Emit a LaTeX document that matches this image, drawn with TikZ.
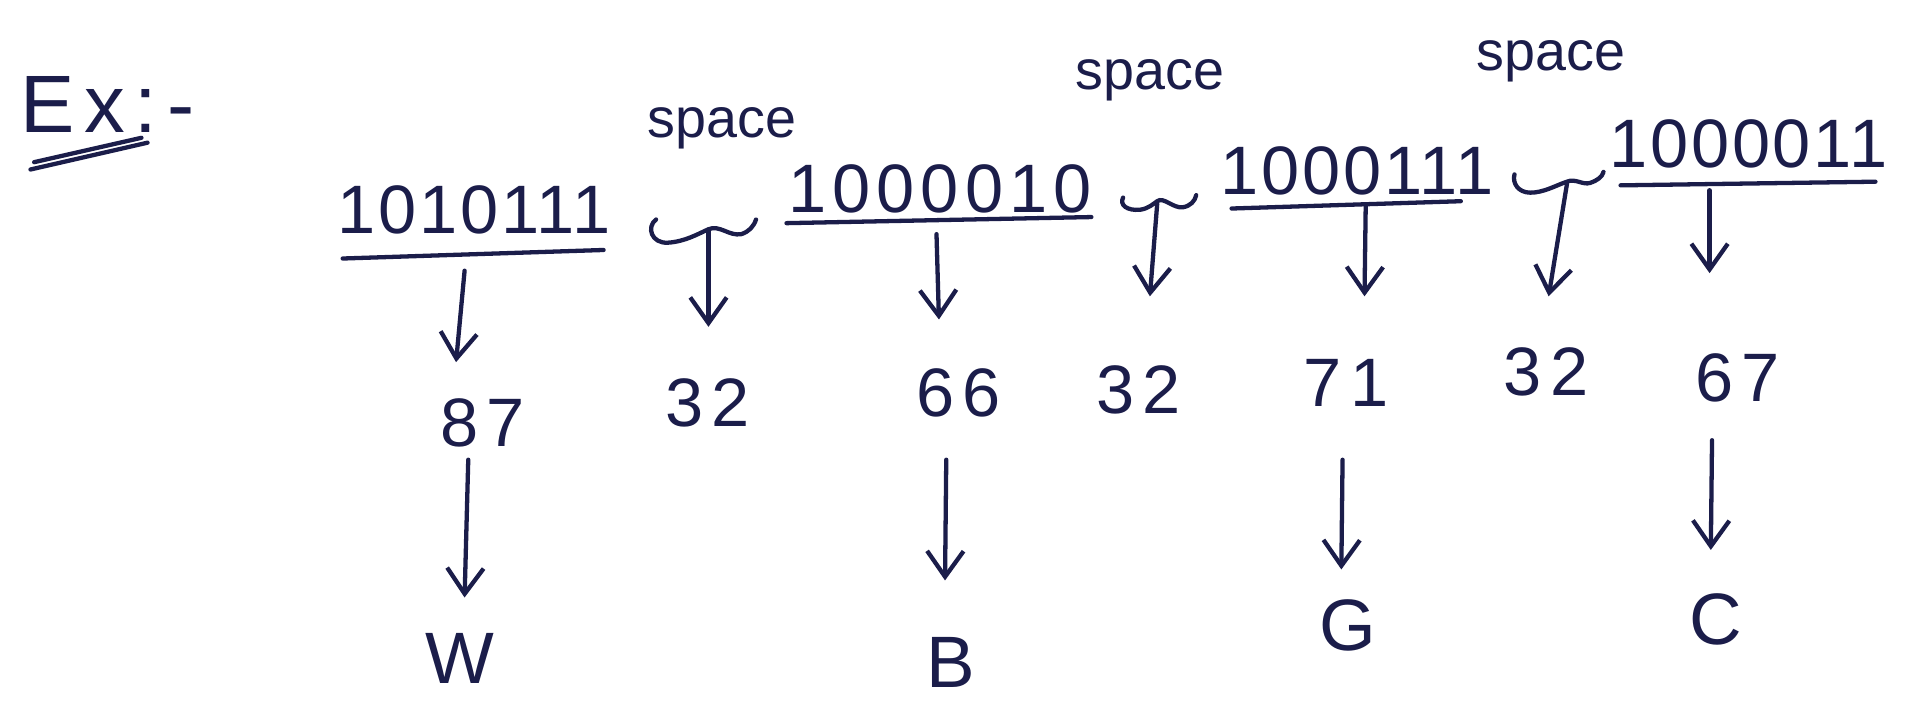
\documentclass[tikz,border=0pt]{standalone}
\usepackage{fontspec}
\setmainfont{Liberation Sans}
\newfontfamily\bitfont[LetterSpace=4]{Liberation Sans}
\newfontfamily\widebitfont[LetterSpace=9]{Liberation Sans}
\newfontfamily\numfont[LetterSpace=12]{Liberation Sans}
\usetikzlibrary{arrows.meta}
\definecolor{ink}{HTML}{1B1D4A}
\begin{document}
\begin{tikzpicture}[x=0.02cm,y=-0.02cm,
  pen/.style={draw=ink,line width=2pt,line cap=round,line join=round},
  bits/.style={text=ink,font=\bitfont\fontsize{32}{38}\selectfont,inner sep=0pt},
  num/.style={text=ink,font=\numfont\fontsize{32}{38}\selectfont,inner sep=0pt},
  chr/.style={text=ink,font=\fontsize{34}{40}\selectfont,inner sep=0pt},
  lbl/.style={text=ink,font=\fontsize{26}{30}\selectfont,inner sep=0pt},
  down/.style={pen,-{Straight Barb[length=12pt,width=17pt]}},
]
\fill[white] (0,0) rectangle (1568,589);
\useasboundingbox (0,0) rectangle (1568,589);

% heading, double underlined
\node[chr,font=\numfont\fontsize{38}{44}\selectfont] (ex) at (88,86) {Ex:-};
\draw[pen] (25,139) -- (121,117);
\draw[pen] (28,133) -- (116,113);

% the four 7-bit codes, each underlined
\node[bits] (g1) at (389,172) {1010111};
\node[bits,font=\widebitfont\fontsize{32}{38}\selectfont] (g2) at (771,155) {1000010};
\node[bits] (g3) at (1113,140) {1000111};
\node[bits] (g4) at (1434,118) {1000011};
\draw[pen] (281,212) -- (495,205);
\draw[pen] (645,183) -- (895,178);
\draw[pen] (1010,171) -- (1198,165);
\draw[pen] (1329,152) -- (1538,149);

% the spaces between the codes
\node[lbl] (s1) at (592,105) {space};
\node[lbl] (s2) at (943,66) {space};
\node[lbl] (s3) at (1272,50) {space};
\draw[pen] (538,180) .. controls (530,186) and (534,200) .. (548,199)
  .. controls (562,198) and (572,192) .. (581,188)
  .. controls (590,184) and (598,194) .. (608,192)
  .. controls (614,190) and (618,186) .. (620,180);
\draw[pen] (921,162) .. controls (918,168) and (924,173) .. (935,172)
  .. controls (942,171) and (946,167) .. (949,165)
  .. controls (954,161) and (962,171) .. (970,170)
  .. controls (976,169) and (980,165) .. (981,160);
\draw[pen] (1242,143) .. controls (1240,150) and (1245,158) .. (1255,158)
  .. controls (1266,158) and (1276,152) .. (1285,149)
  .. controls (1292,146) and (1298,152) .. (1304,150)
  .. controls (1310,148) and (1314,145) .. (1315,141);

% decimal values
\node[num] (n1) at (396,347) {87};
\node[num] (n2) at (580,330) {32};
\node[num] (n3) at (786,322) {66};
\node[num] (n4) at (934,320) {32};
\node[num] (n5) at (1104,314) {71};
\node[num] (n6) at (1268,305) {32};
\node[num] (n7) at (1425,310) {67};

% characters
\node[chr] (c1) at (377,540) {W};
\node[chr] (c2) at (780,543) {B};
\node[chr] (c3) at (1105,513) {G};
\node[chr] (c4) at (1407,508) {C};

% arrow end points
\coordinate (a1s) at (381,222);  \coordinate (a1e) at (374,297);
\coordinate (a2s) at (581,190);  \coordinate (a2e) at (581,268);
\coordinate (a3s) at (768,192);  \coordinate (a3e) at (770,262);
\coordinate (a4s) at (949,167);  \coordinate (a4e) at (943,243);
\coordinate (a5s) at (1120,168); \coordinate (a5e) at (1119,243);
\coordinate (a6s) at (1285,151); \coordinate (a6e) at (1270,243);
\coordinate (a7s) at (1402,156); \coordinate (a7e) at (1402,224);
\coordinate (b1s) at (384,377);  \coordinate (b1e) at (381,490);
\coordinate (b2s) at (776,377);  \coordinate (b2e) at (775,476);
\coordinate (b3s) at (1101,377); \coordinate (b3e) at (1100,467);
\coordinate (b4s) at (1404,361); \coordinate (b4e) at (1403,451);

\foreach \p in {a1,a2,a3,a4,a5,a6,a7,b1,b2,b3,b4}
  \draw[down] (\p s) -- (\p e);
\end{tikzpicture}
\end{document}
